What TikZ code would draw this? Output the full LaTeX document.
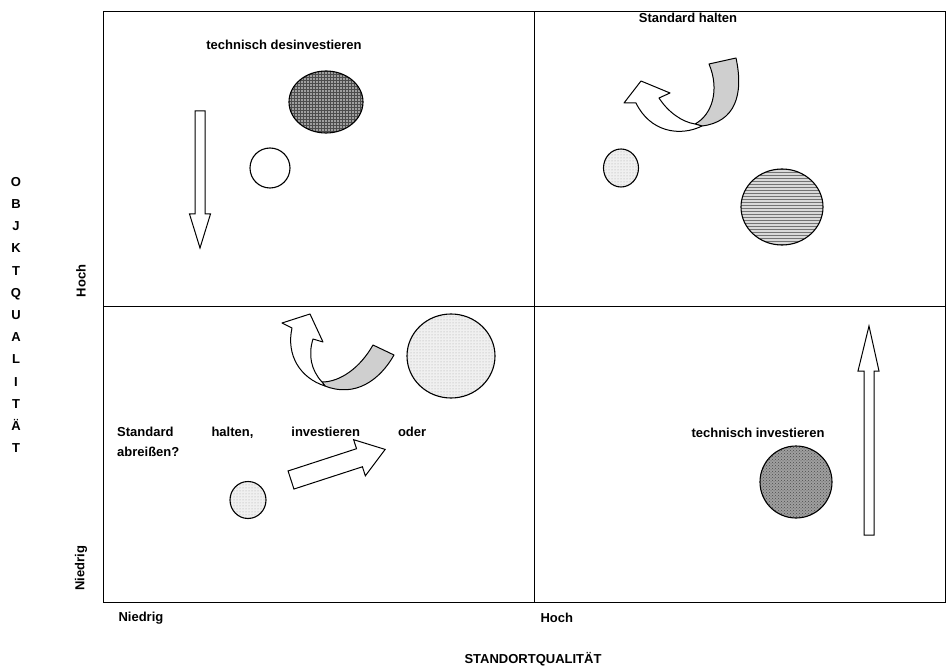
\documentclass[tikz,border=0pt]{standalone}
\usepackage{fontspec}
\setmainfont{Liberation Sans}
\usetikzlibrary{shapes.geometric,patterns}

\begin{document}
\begin{tikzpicture}[x=1pt,y=-1pt,
	lbl/.style={font=\fontsize{13}{15}\selectfont\bfseries},
	blob/.style={ellipse,draw,line width=1.1pt,inner sep=0pt},
	blobdark/.style={blob,preaction={fill=gray!75},pattern=grid,pattern color=black!70},
	blobcheck/.style={blob,preaction={fill=gray!75},pattern=crosshatch dots,pattern color=black!70},
	bloblines/.style={blob,preaction={fill=gray!30},pattern=horizontal lines,pattern color=black!55},
	bloblight/.style={blob,preaction={fill=gray!12},pattern=dots,pattern color=gray!70},
	blobwhite/.style={blob,fill=white},
	blockarrow/.style={draw,line width=1pt,fill=white,line join=miter},
	backside/.style={draw,line width=1pt,fill=gray!38,line join=round}]
	\useasboundingbox (0,0) rectangle (946,671);
	\draw[line width=1pt] (103,12) rectangle (945,602);
	\draw[line width=1pt] (534,12) -- (534,602);
	\draw[line width=1pt] (103,307) -- (945,307);
	% upper left
	\node[lbl] (tlq) at (284,45) {technisch desinvestieren};
	\node[blobdark,minimum width=74,minimum height=62] (tlbig) at (326,102) {};
	\node[blobwhite,minimum width=40,minimum height=40] (tlsmall) at (270,168) {};
	\draw[blockarrow] (195,111) -- (205,111) -- (205,214) -- (210.5,214) -- (200,248) -- (189.5,214) -- (195,214) -- cycle;
	% upper right
	\node[lbl] (trq) at (688,18) {Standard halten};
	\node[bloblight,minimum width=35,minimum height=38] (trsmall) at (621,168) {};
	\node[bloblines,minimum width=82,minimum height=76] (trbig) at (782,207) {};
	\draw[backside] (709,64) -- (736,58) .. controls (744,95) and (735,122) .. (702,126)
		-- (695,124) .. controls (712,115) and (720,90) .. (709,64) -- cycle;
	\draw[blockarrow,line join=round] (702,126) .. controls (680,137) and (650,132) .. (636,103)
		-- (624,103) -- (641,81) -- (670,93) -- (659,98)
		.. controls (668,112) and (682,122) .. (695,124) -- cycle;
	% lower left
	\node[lbl,text width=309,align=left,inner sep=0pt,anchor=north west,
		font=\fontsize{13}{20}\selectfont\bfseries] (blq) at (117,427)
		{Standard\hfill halten,\hfill investieren\hfill oder\\abreißen?};
	\node[bloblight,minimum width=88,minimum height=84] (blbig) at (451,356) {};
	\node[bloblight,minimum width=36,minimum height=37] (blsmall) at (248,500) {};
	\draw[backside] (322,382) .. controls (340,382) and (360,368) .. (373,345)
		-- (394,355) .. controls (380,380) and (355,398) .. (325,386) -- cycle;
	\draw[blockarrow,line join=round] (292,328) .. controls (286,355) and (300,378) .. (325,386)
		-- (322,382) .. controls (311,370) and (308,355) .. (313,339)
		-- (323,342) -- (310,314) -- (282,323) -- cycle;
	\begin{scope}[shift={(291,480)},rotate=18]
		\draw[blockarrow] (0,-9.5) -- (72,-9.5) -- (72,-19) -- (99,0) -- (72,19) -- (72,9.5) -- (0,9.5) -- cycle;
	\end{scope}
	% lower right
	\node[lbl] (brq) at (758,433) {technisch investieren};
	\node[blobcheck,minimum width=72,minimum height=72] (brbig) at (796,482) {};
	\draw[blockarrow] (864,535) -- (874,535) -- (874,371) -- (879,371) -- (869,326) -- (858,371) -- (864,371) -- cycle;
	% axes
	\node[lbl,anchor=west] (xlow) at (115,618) {Niedrig};
	\node[lbl,anchor=west] (xhigh) at (537,618) {Hoch};
	\node[lbl] (xtitle) at (533,659) {STANDORTQUALITÄT};
	\node[lbl,rotate=90] (ylow) at (81,568) {Niedrig};
	\node[lbl,rotate=90] (yhigh) at (81,281) {Hoch};
	\node[lbl,align=center,font=\fontsize{13}{22.2}\selectfont\bfseries] (ytitle) at (16,315)
		{O\\B\\J\\K\\T\\Q\\U\\A\\L\\I\\T\\Ä\\T};
\end{tikzpicture}
\end{document}
